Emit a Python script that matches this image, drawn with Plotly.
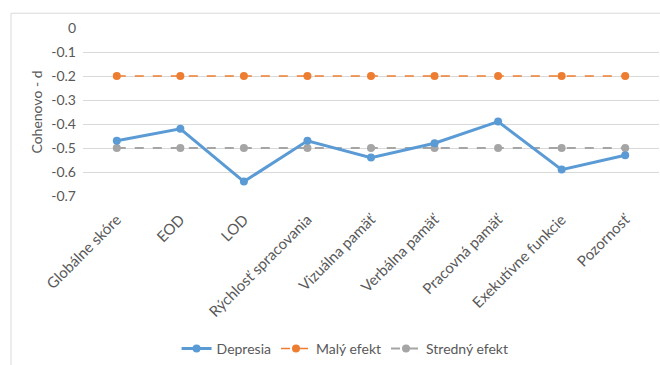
import plotly.graph_objects as go

categories = ["Globálne skóre", "EOD", "LOD", "Rýchlosť spracovania", "Vizuálna pamäť",
              "Verbálna pamäť", "Pracovná pamäť", "Exekutívne funkcie", "Pozornosť"]
depresia = [-0.47, -0.42, -0.64, -0.47, -0.54, -0.48, -0.39, -0.59, -0.53]
maly_efekt = [-0.2] * 9
stredny_efekt = [-0.5] * 9
y_ticks = [0, -0.1, -0.2, -0.3, -0.4, -0.5, -0.6, -0.7]

FONT = "Lato"
TXT = "#595959"

fig = go.Figure()
fig.add_trace(go.Scatter(x=categories, y=stredny_efekt, name="Stredný efekt", mode="lines+markers",
                         line=dict(color="#A5A5A5", width=2, dash="dash"),
                         marker=dict(color="#A5A5A5", size=8), legendrank=3))
fig.add_trace(go.Scatter(x=categories, y=maly_efekt, name="Malý efekt", mode="lines+markers",
                         line=dict(color="#ED7D31", width=1.5, dash="dash"),
                         marker=dict(color="#ED7D31", size=8), legendrank=2))
fig.add_trace(go.Scatter(x=categories, y=depresia, name="Depresia", mode="lines+markers",
                         line=dict(color="#5B9BD5", width=3),
                         marker=dict(color="#5B9BD5", size=8), legendrank=1))

fig.update_layout(
    width=660, height=365,
    margin=dict(l=83, r=1, t=28, b=167),
    paper_bgcolor="white", plot_bgcolor="white",
    font=dict(family=FONT, size=14, color=TXT),
    showlegend=True,
    legend=dict(orientation="h", x=0.455, xanchor="center", y=-0.91, yanchor="middle",
                font=dict(size=14, color=TXT), traceorder="normal", itemwidth=30),
    xaxis=dict(type="category", tickangle=-45, showgrid=False, showline=False,
               ticks="", tickfont=dict(size=15, color=TXT), ticklabelstandoff=11),
    yaxis=dict(range=[-0.7, 0], tickvals=y_ticks, ticktext=[str(v) for v in y_ticks],
               showgrid=True, gridcolor="#D9D9D9", gridwidth=1, zeroline=False,
               showline=False, ticks="", tickfont=dict(size=14, color=TXT),
               ticklabelstandoff=6,
               title=dict(text="Cohenovo - d", font=dict(size=14, color=TXT), standoff=5)),
    shapes=[dict(type="rect", xref="paper", yref="paper",
                 x0=-0.125, x1=1.2, y0=-1.2, y1=1.088,
                 line=dict(color="#D9D9D9", width=1), fillcolor="rgba(0,0,0,0)", layer="below")],
)

fig.write_html("out.html")
